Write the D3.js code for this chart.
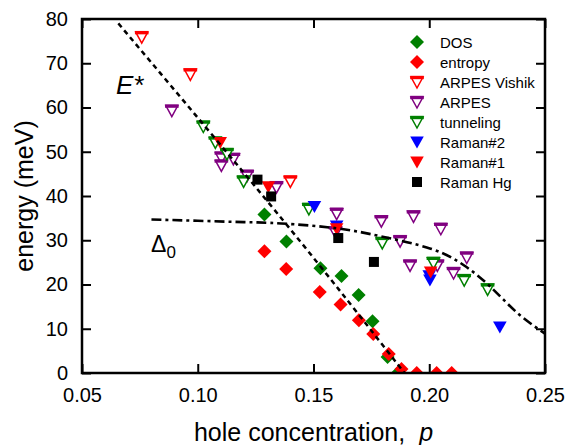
<!DOCTYPE html>
<html>
<head>
<meta charset="utf-8">
<script src="https://cdn.jsdelivr.net/npm/d3@7"></script>
<style>
html,body{margin:0;padding:0;background:#fff;}
svg{display:block;}
text{font-family:"Liberation Sans",Arial,Helvetica,sans-serif;fill:#000;}
</style>
</head>
<body>
<svg id="chart" width="567" height="445"></svg>
<script>
// ---- data (hole concentration p, energy meV) ----
const dos = [[0.1288,35.8],[0.1383,29.7],[0.153,23.7],[0.1621,21.9],[0.1695,17.6],[0.1755,11.7],[0.182,3.6],[0.1868,0.2]];
const entropy = [[0.1288,27.5],[0.1382,23.5],[0.1527,18.3],[0.1617,15.5],[0.1696,11.9],[0.1758,8.8],[0.1825,4.3],[0.188,0.9],[0.1946,0],[0.2032,0],[0.2097,0]];
const arpesVishik = [[0.0758,75.9],[0.0968,67.5],[0.14,43.3]];
const arpes = [[0.0888,59.3],[0.1102,48.7],[0.1102,46.9],[0.1154,48.4],[0.1213,44.6],[0.134,42.0],[0.16,36.0],[0.1595,31.8],[0.1793,34.3],[0.1932,35.4],[0.205,32.6],[0.1874,29.8],[0.1917,24.3],[0.2035,24.3],[0.2105,22.6],[0.2162,26.1]];
const tunneling = [[0.1024,55.7],[0.1076,52.1],[0.1126,49.5],[0.1198,43.3],[0.148,37.1],[0.1797,29.4],[0.2018,24.9],[0.2151,21.0],[0.2252,18.9]];
const raman2 = [[0.1504,37.6],[0.16,33.2],[0.2,22.0],[0.2003,21.0],[0.2305,10.4]];
const raman1 = [[0.1097,52.1],[0.1305,42.1],[0.160,32.6],[0.2006,22.8]];
const ramanHg = [[0.1258,43.7],[0.1317,39.9],[0.1607,30.5],[0.1761,25.1]];

const eStarLine = [[0.0657,79.0],[0.137,34.4],[0.1893,0]];
const delta0Line = [[0.08,34.7],[0.10,34.4],[0.12,34.1],[0.136,33.8],[0.16,32.7],[0.179,30.9],[0.2006,28.1],[0.2151,24.3],[0.2266,19.4],[0.2382,13.5],[0.25,8.9]];

const xTicks = [0.05,0.10,0.15,0.20,0.25];
const yTicks = [0,10,20,30,40,50,60,70,80];

const seriesNames = ["DOS","entropy","ARPES Vishik","ARPES","tunneling","Raman#2","Raman#1","Raman Hg"];

// ---- layout ----
const svg = d3.select("#chart");
const L = 82, R = 545, T = 19, B = 373;
const x = d3.scaleLinear().domain([0.05,0.25]).range([L,R]);
const y = d3.scaleLinear().domain([0,80]).range([B,T]);

const series = [
  {name:seriesNames[0], data:dos, type:"diamond", color:"#008000"},
  {name:seriesNames[1], data:entropy, type:"diamond", color:"#ff0000"},
  {name:seriesNames[2], data:arpesVishik, type:"openTri", color:"#ff0000"},
  {name:seriesNames[3], data:arpes, type:"openTri", color:"#800080"},
  {name:seriesNames[4], data:tunneling, type:"openTri", color:"#008000"},
  {name:seriesNames[5], data:raman2, type:"fillTri", color:"#0000ff"},
  {name:seriesNames[6], data:raman1, type:"fillTri", color:"#ff0000"},
  {name:seriesNames[7], data:ramanHg, type:"square", color:"#000000"}
];

svg.append("defs").append("clipPath").attr("id","clip")
  .append("rect").attr("x",L).attr("y",T).attr("width",R-L).attr("height",B-T);

function drawMarker(g, type, color){
  if(type==="diamond"){
    g.append("path").attr("d","M0,-7L7,0L0,7L-7,0Z").attr("fill",color);
  } else if(type==="square"){
    g.append("rect").attr("x",-5).attr("y",-5).attr("width",10).attr("height",10).attr("fill",color);
  } else if(type==="openTri"){
    g.append("path").attr("d","M-6,-5L6,-5L0,6Z").attr("fill","#fff").attr("stroke",color).attr("stroke-width",1.5).attr("stroke-linejoin","miter");
    g.append("rect").attr("x",-6.8).attr("y",-6.2).attr("width",13.6).attr("height",3.4).attr("fill",color);
  } else if(type==="fillTri"){
    g.append("path").attr("d","M-6.8,-5.5L6.8,-5.5L0,6.5Z").attr("fill",color);
  }
}

const plot = svg.append("g").attr("clip-path","url(#clip)");
series.forEach(s=>{
  plot.append("g").selectAll("g").data(s.data).enter().append("g")
    .attr("transform",d=>`translate(${x(d[0])},${y(d[1])})`)
    .each(function(){ drawMarker(d3.select(this), s.type, s.color); });
});

// lines
plot.append("path").datum(eStarLine)
  .attr("d", d3.line().x(d=>x(d[0])).y(d=>y(d[1])).curve(d3.curveNatural))
  .attr("fill","none").attr("stroke","#000").attr("stroke-width",2.5).attr("stroke-dasharray","5,4");
plot.append("path").datum(delta0Line)
  .attr("d", d3.line().x(d=>x(d[0])).y(d=>y(d[1])).curve(d3.curveNatural))
  .attr("fill","none").attr("stroke","#000").attr("stroke-width",2.6).attr("stroke-dasharray","10,4,3,4");

// frame and ticks
svg.append("rect").attr("x",L).attr("y",T).attr("width",R-L).attr("height",B-T)
  .attr("fill","none").attr("stroke","#000").attr("stroke-width",2.5);
const tk = 9;
svg.append("g").attr("transform",`translate(0,${B})`)
  .call(d3.axisBottom(x).tickValues(xTicks).tickSize(-tk).tickPadding(tk+6).tickFormat(d3.format(".2f")))
  .call(g=>{g.select(".domain").remove(); g.selectAll("line").attr("stroke-width",2);
           g.selectAll("text").attr("font-size",20).attr("font-family","Liberation Sans, Arial, sans-serif");});
svg.append("g").attr("transform",`translate(0,${T})`)
  .call(d3.axisTop(x).tickValues(xTicks).tickSize(-tk).tickFormat(""))
  .call(g=>{g.select(".domain").remove(); g.selectAll("line").attr("stroke-width",2);});
svg.append("g").attr("transform",`translate(${L},0)`)
  .call(d3.axisLeft(y).tickValues(yTicks).tickSize(-tk).tickPadding(tk+5).tickFormat(d3.format("d")))
  .call(g=>{g.select(".domain").remove(); g.selectAll("line").attr("stroke-width",2);
           g.selectAll("text").attr("font-size",20).attr("font-family","Liberation Sans, Arial, sans-serif");});
svg.append("g").attr("transform",`translate(${R},0)`)
  .call(d3.axisRight(y).tickValues(yTicks).tickSize(-tk).tickFormat(""))
  .call(g=>{g.select(".domain").remove(); g.selectAll("line").attr("stroke-width",2);});

// axis titles
const xt = svg.append("text").attr("x",(L+R)/2).attr("y",441).attr("text-anchor","middle").attr("font-size",25);
xt.append("tspan").text("hole concentration,\u00a0\u00a0");
xt.append("tspan").attr("font-style","italic").text("p");
svg.append("text").attr("transform",`translate(33,${(T+B)/2}) rotate(-90)`).attr("text-anchor","middle")
  .attr("font-size",25).text("energy (meV)");

// curve labels
svg.append("text").attr("x",116).attr("y",94).attr("font-size",26).attr("font-style","italic").text("E*");
const dl = svg.append("text").attr("x",151).attr("y",252).attr("font-size",23);
dl.append("tspan").text("Δ");
dl.append("tspan").attr("font-size",17).attr("dy",6).text("0");

// legend
const leg = svg.append("g");
series.forEach((s,i)=>{
  const g = leg.append("g").attr("transform",`translate(417,${42+i*20})`);
  drawMarker(g, s.type, s.color);
  g.append("text").attr("x",23).attr("y",5.5).attr("font-size",15).text(s.name);
});
</script>
</body>
</html>
